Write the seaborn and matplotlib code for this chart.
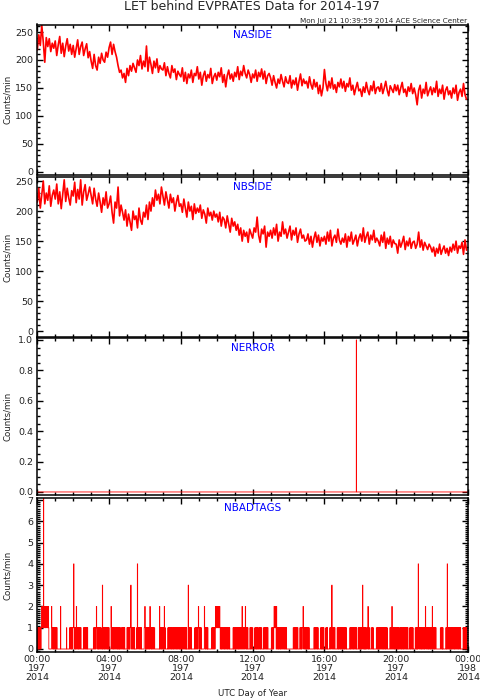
import numpy as np
import pandas as pd
import matplotlib
matplotlib.use("Agg")
import matplotlib.pyplot as plt
import seaborn as sns
from matplotlib.ticker import MultipleLocator, FixedLocator


# NASIDE, 5-minute samples, one row per hour (00h .. 23h)
naside_rows = [
    [218, 245, 226, 262, 232, 196, 240, 224, 238, 215, 230, 221],
    [234, 208, 227, 242, 212, 230, 206, 225, 238, 216, 228, 210],
    [226, 205, 221, 236, 210, 224, 232, 208, 220, 229, 204, 215],
    [198, 185, 210, 190, 182, 205, 194, 212, 200, 196, 214, 205],
    [222, 232, 210, 228, 215, 205, 190, 178, 182, 168, 176, 160],
    [185, 172, 190, 180, 194, 186, 178, 200, 190, 208, 184, 198],
    [188, 225, 180, 205, 192, 176, 198, 186, 202, 178, 190, 184],
    [182, 195, 172, 188, 176, 168, 190, 178, 184, 165, 180, 174],
    [170, 186, 162, 178, 158, 175, 168, 182, 160, 176, 172, 188],
    [166, 178, 155, 172, 180, 162, 174, 168, 185, 158, 170, 176],
    [164, 178, 170, 186, 160, 174, 152, 172, 182, 166, 175, 162],
    [178, 170, 188, 165, 180, 172, 190, 176, 168, 182, 174, 160],
    [175, 168, 182, 162, 178, 170, 184, 166, 180, 158, 172, 176],
    [168, 155, 172, 160, 150, 166, 158, 174, 162, 152, 170, 160],
    [158, 172, 150, 164, 156, 168, 146, 162, 175, 154, 166, 158],
    [162, 150, 170, 156, 148, 165, 152, 160, 140, 155, 136, 150],
    [183, 158, 145, 162, 150, 168, 148, 156, 142, 160, 152, 166],
    [150, 162, 144, 158, 152, 168, 146, 155, 138, 150, 160, 145],
    [148, 135, 152, 142, 160, 146, 138, 154, 145, 162, 140, 150],
    [152, 144, 158, 140, 150, 162, 146, 136, 154, 148, 142, 156],
    [145, 155, 138, 150, 160, 142, 148, 135, 152, 144, 158, 140],
    [150, 138, 120, 146, 155, 132, 148, 140, 160, 136, 145, 152],
    [138, 150, 142, 162, 135, 148, 140, 155, 130, 146, 152, 138],
    [145, 132, 150, 140, 155, 128, 142, 148, 135, 158, 138, 130],
]

# NBSIDE, same layout
nbside_rows = [
    [215, 238, 205, 228, 250, 212, 230, 218, 242, 208, 226, 235],
    [220, 245, 212, 232, 204, 228, 252, 216, 238, 222, 210, 234],
    [225, 248, 214, 236, 220, 252, 210, 232, 244, 218, 228, 240],
    [226, 212, 238, 220, 208, 230, 215, 198, 222, 210, 232, 205],
    [212, 225, 198, 180, 215, 205, 240, 192, 210, 198, 185, 202],
    [175, 195, 182, 168, 200, 186, 192, 172, 205, 185, 178, 198],
    [190, 210, 186, 215, 200, 222, 208, 235, 218, 228, 212, 240],
    [225, 210, 232, 218, 205, 228, 214, 222, 200, 215, 226, 208],
    [212, 198, 220, 205, 190, 215, 200, 208, 186, 212, 196, 205],
    [198, 210, 188, 202, 195, 180, 205, 192, 198, 185, 200, 190],
    [195, 182, 198, 175, 190, 186, 172, 192, 178, 165, 188, 175],
    [182, 168, 178, 160, 172, 150, 168, 158, 165, 148, 170, 162],
    [155, 172, 165, 190, 160, 148, 170, 162, 175, 140, 165, 158],
    [168, 155, 172, 160, 178, 150, 165, 158, 182, 162, 170, 155],
    [165, 175, 152, 168, 160, 172, 148, 162, 170, 155, 160, 150],
    [152, 162, 145, 158, 140, 155, 165, 148, 160, 142, 156, 150],
    [158, 145, 165, 150, 168, 142, 155, 160, 148, 170, 152, 145],
    [155, 148, 162, 140, 158, 150, 165, 145, 152, 160, 142, 155],
    [162, 150, 172, 148, 158, 165, 145, 160, 152, 168, 148, 155],
    [150, 142, 160, 148, 165, 138, 155, 145, 158, 140, 152, 146],
    [145, 130, 152, 140, 148, 158, 136, 150, 142, 155, 138, 148],
    [150, 138, 145, 165, 140, 152, 135, 148, 142, 136, 145, 140],
    [132, 140, 125, 138, 130, 145, 128, 136, 142, 130, 138, 126],
    [140, 132, 145, 135, 150, 130, 142, 138, 148, 128, 152, 135],
]

# NERROR is zero every minute except these
nerror_minutes = [1067]
nerror_counts = [1]

# NBADTAGS counts per minute, one string per hour (9 = off scale)
nbadtags_rows = [
    "1011010110 1101122121 2921221212 1222121210 0000000021 1011010110",
    "1101011000 0000000020 0000000000 0000000010 0000000011 0110101101",
    "1141011010 0210110101 1011011000 0000010110 1101011010 0000000000",
    "0000000011 0110110121 1011010110 1101100030 1101101011 0110101101",
    "1000000211 0110101101 1011011010 1101010110 0110110101 1010000000",
    "1101011010 0113101101 1011010000 0011041101 1101011010 0000000011",
    "2101101011 0110101210 1101011011 0110000000 0000000002 0110101101",
    "1010120110 0000000101 1011011010 1101101011 0110110101 1011010110",
    "1101011011 0110110101 0000030110 1011010000 0000000101 1011011012",
    "1101011010 0000000002 1101011010 1000000000 0001101101 1011012121",
    "2122121212 2101101011 0110110101 1011010110 1101000000 0000010110",
    "1101011011 0110101101 1011021011 0110112011 0101100000 0110101101",
    "1000000110 1101011010 0110110101 1000000101 1011011010 1100000000",
    "0001101011 0122121210 2101101011 0110101101 1011011010 1101000000",
    "0000000000 0000001101 1011010110 1100000011 0110101112 1011011010",
    "1101101011 0000000000 0000011010 1101101011 0000000110 1011010110",
    "0000010110 1000000011 0110131011 0110110000 0001101011 0110101101",
    "1011011010 1101000000 0000011010 1101101011 0110110100 0001101011",
    "0110101130 1101011010 0110112010 1100000110 1101000000 0000110101",
    "1011010110 1101101011 0110101101 1000000001 1011012011 0110101101",
    "1101011010 0110110101 1011010110 1101101011 0000011010 1101101000",
    "0000110101 1010411011 0110101101 1011010121 0110110101 1011010110",
    "1210110101 1011000000 0000000011 0110101000 0000001101 0410110101",
    "1011010110 1101101011 0110110101 1011010000 0000110101 1011010111",
]

hour_ticks = [0, 4, 8, 12, 16, 20, 24]
tick_times = ["00:00", "04:00", "08:00", "12:00", "16:00", "20:00", "00:00"]
tick_days = ["197", "197", "197", "197", "197", "197", "198"]
tick_year = "2014"


def build_frames():
    na = np.array(naside_rows, dtype=float).ravel()
    nb = np.array(nbside_rows, dtype=float).ravel()
    five = pd.DataFrame({"hour": np.arange(len(na)) * 5 / 60.0, "naside": na, "nbside": nb})

    bad = [int(c) for row in nbadtags_rows for c in row.replace(" ", "").ljust(60, "0")[:60]]
    err = np.zeros(len(bad))
    for m, c in zip(nerror_minutes, nerror_counts):
        err[m] = c
    minute = pd.DataFrame({"hour": np.arange(len(bad)) / 60.0, "nerror": err, "nbadtags": bad})
    return five, minute


def style_axis(ax, ylim, major, minor, fmt):
    ax.set_xlim(0, 24)
    ax.set_ylim(*ylim)
    ax.xaxis.set_major_locator(FixedLocator(hour_ticks))
    ax.xaxis.set_minor_locator(MultipleLocator(1))
    ax.yaxis.set_major_locator(MultipleLocator(major))
    ax.yaxis.set_minor_locator(MultipleLocator(minor))
    ax.yaxis.set_major_formatter(plt.FuncFormatter(lambda v, p: fmt.format(v)))
    ax.tick_params(which="both", direction="in", top=True, right=True, width=1.0, color="black")
    ax.tick_params(which="major", length=4.5)
    ax.tick_params(which="minor", length=2.2)
    ax.tick_params(axis="y", labelsize=6.8, pad=3, labelcolor="#222222")
    for s in ax.spines.values():
        s.set_linewidth(1.1)
        s.set_color("black")
    ax.set_xlabel("")
    ax.set_ylabel("")


def main():
    sns.set_theme(style="ticks")
    plt.rcParams["font.family"] = ["DejaVu Sans"]
    five, minute = build_frames()

    fig = plt.figure(figsize=(4.81, 7.0), dpi=100)
    left, width = 37.3 / 481, (468 - 37.3) / 481
    boxes = [(24.5, 175), (177, 337), (338, 495), (498, 652)]
    axes = [fig.add_axes([left, 1 - b / 700, width, (b - t) / 700]) for t, b in boxes]

    panels = [
        ("NASIDE", five, "naside", (-5.4, 263.4), 50, 10, "{:.0f}"),
        ("NBSIDE", five, "nbside", (-9.5, 256.7), 50, 10, "{:.0f}"),
        ("NERROR", minute, "nerror", (-0.02, 1.013), 0.2, 0.05, "{:.1f}"),
        ("NBADTAGS", minute, "nbadtags", (-0.141, 7.094), 1, 0.1, "{:.0f}"),
    ]
    for ax, (t, b), (name, df, col, ylim, major, minor, fmt) in zip(axes, boxes, panels):
        if df is five:
            sns.lineplot(data=df, x="hour", y=col, ax=ax, color="red", lw=1.2, estimator=None)
        else:
            sns.lineplot(data=df, x="hour", y=col, ax=ax, color="red", lw=0.6,
                         estimator=None, drawstyle="steps-mid")
        style_axis(ax, ylim, major, minor, fmt)
        ax.text(0.5, 1 - 10 / (b - t), name, transform=ax.transAxes,
                ha="center", va="center", color="blue", fontsize=7.5)
        fig.text(8, 700 - (t + b) / 2, "Counts/min", transform=None, rotation=90,
                 ha="center", va="center", fontsize=6.2, color="#222222")

    for ax in axes[:-1]:
        ax.set_xticklabels([])
    labels = [f"{t}\n{d}\n{tick_year}" for t, d in zip(tick_times, tick_days)]
    axes[-1].set_xticklabels(labels, fontsize=6.8, linespacing=1.05, color="#222222")
    axes[-1].tick_params(axis="x", pad=2)

    fig.text(252, 700 - 6, "LET behind EVPRATES Data for 2014-197", transform=None,
             ha="center", va="center", fontsize=9)
    fig.text(467, 700 - 20.5, "Mon Jul 21 10:39:59 2014 ACE Science Center", transform=None,
             ha="right", va="center", fontsize=5.2)
    fig.text(252, 700 - 694, "UTC Day of Year", transform=None,
             ha="center", va="center", fontsize=6.2, color="#222222")

    fig.savefig("out.png", dpi=100)


if __name__ == "__main__":
    main()
